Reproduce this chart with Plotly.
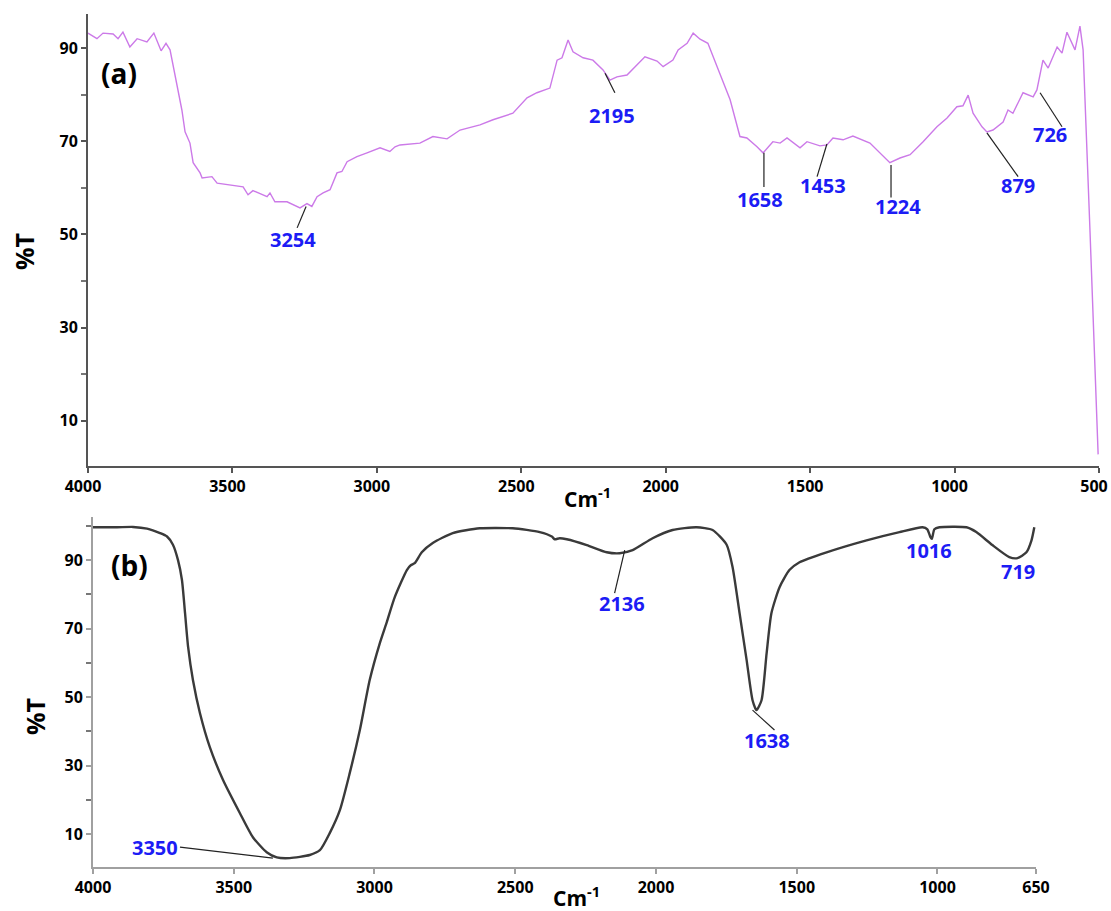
import plotly.graph_objects as go

# ---------------- data: spectrum (a) ----------------
wn_a = [4000, 3969, 3948, 3913, 3896, 3879, 3855, 3830, 3796, 3772, 3747, 3730, 3716,
        3692, 3675, 3664, 3647, 3636, 3612, 3605, 3571, 3553, 3498, 3463, 3446, 3429,
        3380, 3370, 3353, 3311, 3266, 3242, 3225, 3207, 3186, 3162, 3138, 3121, 3103,
        3069, 3034, 2989, 2955, 2937, 2920, 2851, 2806, 2757, 2712, 2643, 2598, 2529,
        2480, 2446, 2401, 2390, 2376, 2359, 2338, 2321, 2286, 2252, 2217, 2193, 2169,
        2134, 2099, 2072, 2030, 2009, 1975, 1957, 1926, 1905, 1881, 1854, 1822, 1777,
        1743, 1719, 1684, 1663, 1629, 1604, 1580, 1535, 1511, 1466, 1442, 1421, 1386,
        1352, 1293, 1224, 1189, 1154, 1109, 1061, 1026, 992, 971, 953, 936, 905, 888,
        867, 832, 815, 798, 763, 728, 715, 694, 676, 645, 628, 611, 583, 566, 555, 531, 503]
t_a = [93.2, 92.0, 93.2, 93.0, 92.0, 93.4, 90.2, 92.0, 91.3, 93.2, 89.4, 91.0, 89.6,
       82.5, 76.7, 72.0, 69.6, 65.4, 63.2, 62.1, 62.4, 61.0, 60.6, 60.2, 58.5, 59.4,
       58.1, 58.9, 57.0, 57.0, 55.7, 56.6, 56.0, 58.1, 58.9, 59.6, 63.2, 63.5, 65.6,
       66.7, 67.5, 68.6, 67.8, 68.8, 69.2, 69.6, 71.0, 70.5, 72.4, 73.5, 74.6, 76.0,
       79.3, 80.4, 81.4, 84.2, 87.4, 87.9, 91.7, 89.2, 87.9, 87.4, 85.3, 83.1, 83.8,
       84.2, 86.4, 88.1, 87.2, 86.0, 87.4, 89.6, 91.0, 93.2, 91.9, 91.0, 86.0, 78.9,
       71.0, 70.7, 68.8, 67.5, 69.9, 69.6, 70.7, 68.6, 69.9, 69.0, 69.2, 70.7, 70.3,
       71.1, 69.6, 65.4, 66.4, 67.1, 69.9, 73.1, 75.0, 77.4, 77.6, 79.9, 76.0, 73.1, 72.0,
       72.4, 74.1, 76.7, 76.0, 80.4, 79.5, 81.0, 87.4, 85.7, 90.2, 88.9, 93.4, 89.6, 94.7,
       89.6, 50.4, 2.8]

# ---------------- data: spectrum (b) ----------------
wn_b = [4000, 3915, 3858, 3808, 3762, 3737, 3716, 3698, 3684, 3673, 3662, 3645, 3620,
        3585, 3538, 3478, 3432, 3383, 3347, 3301, 3230, 3194, 3159, 3123, 3088, 3052,
        3017, 2981, 2956, 2928, 2885, 2871, 2857, 2832, 2793, 2722, 2626, 2509, 2413,
        2370, 2360, 2342, 2317, 2246, 2175, 2129, 2083, 2012, 1941, 1856, 1799, 1749,
        1728, 1703, 1678, 1657, 1643, 1625, 1607, 1590, 1561, 1526, 1490, 1394, 1252,
        1135, 1053, 1036, 1025, 1020, 1011, 993, 897, 862, 805, 745, 716, 684, 666, 656]
t_b = [99.6, 99.6, 99.7, 99.2, 97.9, 96.9, 94.5, 90.0, 84.2, 74.5, 64.6, 55.0, 45.3,
       35.4, 25.8, 16.1, 9.1, 4.7, 3.2, 3.0, 3.9, 5.3, 10.3, 17.0, 27.8, 40.4,
       55.0, 65.8, 72.0, 79.2, 87.1, 88.5, 89.1, 92.3, 95.0, 97.9, 99.3, 99.3, 98.2,
       96.9, 96.1, 96.4, 96.1, 94.4, 92.3, 92.0, 92.9, 96.4, 98.8, 99.6, 98.8, 94.5,
       88.0, 74.5, 60.8, 49.1, 46.2, 49.1, 62.8, 74.5, 82.1, 87.1, 89.4, 92.3, 95.8,
       98.2, 99.6, 99.0, 96.7, 96.2, 99.0, 99.6, 99.6, 98.2, 94.4, 90.9, 90.6, 92.3, 95.8, 99.6]

# ---------------- peak labels ----------------
# label text, leader tip (x,y), leader end (x,y), label centre (x,y)
lab_a = ["3254", "2195", "1658", "1453", "1224", "879", "726"]
tip_a = [(3245, 56.0), (2210, 84.6), (1660, 67.5), (1442, 69.4), (1220, 64.9), (888, 71.8), (704, 80.4)]
end_a = [(3276, 51.4), (2176, 80.4), (1660, 60.2), (1476, 62.4), (1220, 57.9), (780, 62.4), (628, 73.1)]
pos_a = [(3290, 48.9), (2186, 75.6), (1674, 57.4), (1455, 60.4), (1196, 55.9), (780, 60.6), (670, 71.4)]

lab_b = ["3350", "2136", "1638", "1016", "719"]
tip_b = [(3361, 3.0), (2111, 92.9), (1657, 46.2), None, None]
end_b = [(3691, 6.2), (2147, 80.4), (1579, 40.4), None, None]
pos_b = [(3780, 6.2), (2122, 77.4), (1604, 37.4), (1029, 92.9), (713, 86.8)]

xticks_a = [4000, 3500, 3000, 2500, 2000, 1500, 1000, 500]
xticks_b = [4000, 3500, 3000, 2500, 2000, 1500, 1000, 650]
yticks = [10, 30, 50, 70, 90]

FONT = "Open Sans"
BLUE = "#1c1cf5"
W, H = 1111, 911

fig = go.Figure()
fig.add_trace(go.Scatter(x=wn_a, y=t_a, mode="lines", xaxis="x", yaxis="y",
                         line=dict(color="#cc7ae8", width=1.4), showlegend=False))
fig.add_trace(go.Scatter(x=wn_b, y=t_b, mode="lines", xaxis="x2", yaxis="y2",
                         line=dict(color="#3a3a3a", width=2.4, shape="spline", smoothing=0.6),
                         showlegend=False))

tickfont = dict(family=FONT, size=16, color="black", weight="bold")

common_x = dict(showline=True, ticks="outside", ticklen=5, showgrid=False, zeroline=False,
                tickfont=tickfont, tickmode="array", automargin=False, ticklabeloverflow="allow")
common_y = dict(showline=True, ticks="outside", ticklen=5, showgrid=False, zeroline=False,
                tickfont=tickfont, tickmode="array", tickvals=yticks, automargin=False,
                minor=dict(tickmode="linear", tick0=0, dtick=10, ticks="outside", ticklen=5))

fig.update_layout(
    width=W, height=H, autosize=False,
    margin=dict(l=0, r=0, t=0, b=0),
    paper_bgcolor="white", plot_bgcolor="white",
    xaxis=dict(common_x, domain=[88/W, 1099/W], range=[4000, 500], tickvals=xticks_a,
               ticklabelshift=5,
               anchor="y", linecolor="#555555", linewidth=2, tickcolor="#555555", tickwidth=2),
    yaxis=dict(common_y, domain=[1-466/H, 1-14/H], range=[0.3, 97.3], anchor="x",
               linecolor="#555555", linewidth=2, tickcolor="#555555", tickwidth=1.5),
    xaxis2=dict(common_x, domain=[93/W, 1036/W], range=[4000, 650], tickvals=xticks_b,
                anchor="y2", linecolor="#a0a0a0", linewidth=2, tickcolor="#a0a0a0", tickwidth=2),
    yaxis2=dict(common_y, domain=[1-867/H, 1-517/H], range=[0.4, 102.6], anchor="x2",
                linecolor="#a0a0a0", linewidth=2, tickcolor="#a0a0a0", tickwidth=1.5),
)
fig.update_yaxes(minor_tickcolor="#777777")

shapes = []
annotations = []


def add_labels(labels, tips, ends, pos, xr, yr):
    for lab, tp, en, ps in zip(labels, tips, ends, pos):
        if tp is not None:
            shapes.append(dict(type="line", xref=xr, yref=yr, x0=tp[0], y0=tp[1], x1=en[0], y1=en[1],
                               line=dict(color="#222222", width=1.2)))
        annotations.append(dict(x=ps[0], y=ps[1], xref=xr, yref=yr, text=lab, showarrow=False,
                                xanchor="center", yanchor="middle",
                                font=dict(family=FONT, size=20, color=BLUE, weight="bold")))


add_labels(lab_a, tip_a, end_a, pos_a, "x", "y")
add_labels(lab_b, tip_b, end_b, pos_b, "x2", "y2")


def paper_text(px, py, text, size, angle=0):
    return dict(x=px/W, y=1-py/H, xref="paper", yref="paper", text=text, showarrow=False,
                xanchor="center", yanchor="middle", textangle=angle,
                font=dict(family=FONT, size=size, color="black", weight="bold"))


# panel letters and axis titles
annotations += [
    paper_text(119, 73, "(a)", 28),
    paper_text(129, 565, "(b)", 28),
    paper_text(24, 252, "%T", 25, -90),
    paper_text(35, 717, "%T", 25, -90),
    paper_text(587, 497, "Cm<sup>-1</sup>", 21),
    paper_text(577, 896, "Cm<sup>-1</sup>", 21),
]

fig.update_layout(shapes=shapes, annotations=annotations)
fig.write_html("out.html", config={"displayModeBar": False},
               post_script="document.body.style.margin='0';document.body.style.overflow='hidden';")
